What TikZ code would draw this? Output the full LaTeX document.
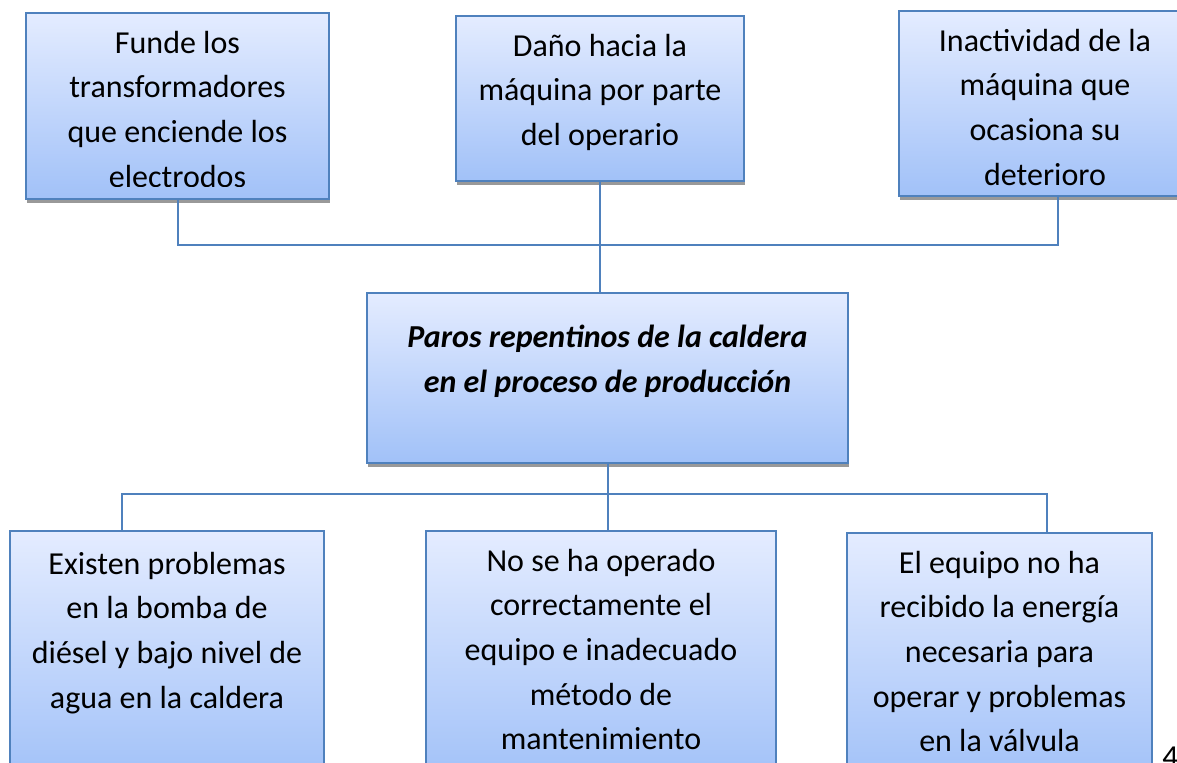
\documentclass[tikz,border=0pt]{standalone}
\usepackage{fontspec}
\setmainfont{Carlito}
\usetikzlibrary{shadows,positioning}
\definecolor{boxline}{RGB}{79,129,189}
\definecolor{boxtop}{RGB}{228,236,255}
\definecolor{boxbot}{RGB}{161,193,248}

\begin{document}
\begin{tikzpicture}[x=0.5pt,y=-0.5pt,
            cell/.style={draw=boxline, line width=1pt, top color=boxtop, bottom color=boxbot, anchor=north west, inner sep=0pt,
              drop shadow={shadow xshift=0.5pt, shadow yshift=-2pt, fill=black!40, opacity=1}},
            label/.style={anchor=north, inner sep=0pt, align=center, font=\fontsize{16pt}{22.3pt}\selectfont},
            link/.style={draw=boxline, line width=1pt}
  ]
  \useasboundingbox (0,0) rectangle (1177,762);

  % causes
  \node[cell, minimum width=151.5pt, minimum height=93pt] (fund) at (25,12) {};
  \node[cell, minimum width=144pt, minimum height=82.5pt] (dano) at (455,15) {};
  \node[cell, minimum width=146pt, minimum height=92.5pt] (inac) at (898,10) {};

  % problem
  \node[cell, minimum width=240.5pt, minimum height=85pt] (paros) at (366,292) {};

  % effects
  \node[cell, minimum width=157pt, minimum height=125pt] (exis) at (9,530) {};
  \node[cell, minimum width=175pt, minimum height=125pt] (oper) at (425,530) {};
  \node[cell, minimum width=152.5pt, minimum height=125pt] (ener) at (846,532) {};

  \begin{scope}
    \clip (25,12) rectangle (328,186);
    \node[label] (fundt) at ([yshift=-9.3pt]fund.north) {Funde los\\transformadores\\que enciende los\\electrodos};
  \end{scope}
  \node[label] (danot) at ([yshift=-9.3pt]dano.north) {Daño hacia la\\máquina por parte\\del operario};
  \node[label] (inact) at ([yshift=-9.3pt]inac.north) {Inactividad de la\\máquina que\\ocasiona su\\deterioro};
  \node[label, font=\fontsize{16pt}{22.3pt}\selectfont\bfseries\itshape] (parost) at ([yshift=-16.3pt]paros.north) {Paros repentinos de la caldera\\en el proceso de producción};
  \node[label] (exist) at ([yshift=-10.8pt]exis.north) {Existen problemas\\en la bomba de\\diésel y bajo nivel de\\agua en la caldera};
  \node[label] (opert) at ([yshift=-9.3pt]oper.north) {No se ha operado\\correctamente el\\equipo e inadecuado\\método de\\mantenimiento};
  \node[label] (enert) at ([yshift=-9.3pt]ener.north) {El equipo no ha\\recibido la energía\\necesaria para\\operar y problemas\\en la válvula};

  \node[anchor=base west, inner sep=0pt, font=\fontsize{16pt}{22.3pt}\selectfont] (pag) at (1162,767) {4};

  % connectors
  \coordinate (tbus) at (599,245);
  \coordinate (bbus) at (606,494);
  \coordinate (inacc) at ([xshift=6.5pt]inac.south);
  \coordinate (exisc) at ([xshift=-22.5pt]exis.north);
  \coordinate (enerc) at ([xshift=23.75pt]ener.north);

  \draw[link] (fund.south) |- (tbus) -| (inacc);
  \draw[link] (dano.south) -- (dano.south |- paros.north);
  \draw[link] (paros.south) -- (oper.north -| paros.south);
  \draw[link] (exisc) |- (bbus) -| (enerc);

\end{tikzpicture}
\end{document}
